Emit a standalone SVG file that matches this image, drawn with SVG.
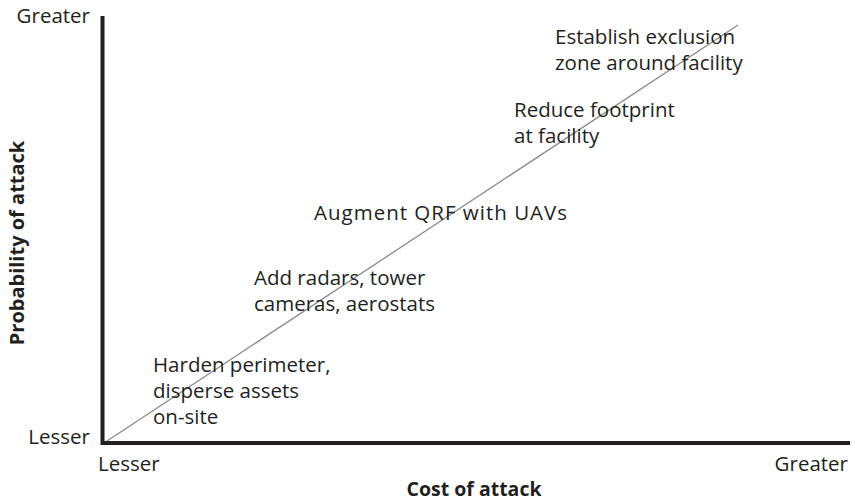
<svg xmlns="http://www.w3.org/2000/svg" width="855" height="501" viewBox="0 0 855 501">
<style>
.t{font-family:"Open Sans","Noto Sans","Liberation Sans",sans-serif;font-size:20.5px;fill:#231f20}
.b{font-family:"Open Sans","Noto Sans","Liberation Sans",sans-serif;font-weight:bold;fill:#231f20}
.ax{stroke:#231f20;stroke-width:4;fill:none}
</style>
<rect width="855" height="501" fill="#fff"/>
<g id="connectors">
<line x1="104" y1="443" x2="738" y2="25" stroke="#8a8a8a" stroke-width="1.3"/>
</g>
<g id="axes">
<path class="ax" d="M102.5 16 V443 H850"/>
</g>
<g id="axis-labels">
<text class="t" x="90" y="23" text-anchor="end">Greater</text>
<text class="t" x="90" y="444" text-anchor="end">Lesser</text>
<text class="t" x="98" y="471">Lesser</text>
<text class="t" x="848" y="471" text-anchor="end">Greater</text>
<text class="b" x="474" y="496" text-anchor="middle" font-size="19.5px">Cost of attack</text>
<text class="b" transform="translate(24 243) rotate(-90)" text-anchor="middle" font-size="20px">Probability of attack</text>
</g>
<g id="n1"><text class="t" x="153" y="372">Harden perimeter,</text><text class="t" x="153" y="398">disperse assets</text><text class="t" x="153" y="424">on-site</text></g>
<g id="n2"><text class="t" x="254" y="285">Add radars, tower</text><text class="t" x="254" y="311">cameras, aerostats</text></g>
<g id="n3"><text class="t" x="314" y="220" letter-spacing="1">Augment QRF with UAVs</text></g>
<g id="n4"><text class="t" x="514" y="117">Reduce footprint</text><text class="t" x="514" y="143">at facility</text></g>
<g id="n5"><text class="t" x="555" y="44">Establish exclusion</text><text class="t" x="555" y="70">zone around facility</text></g>
</svg>
